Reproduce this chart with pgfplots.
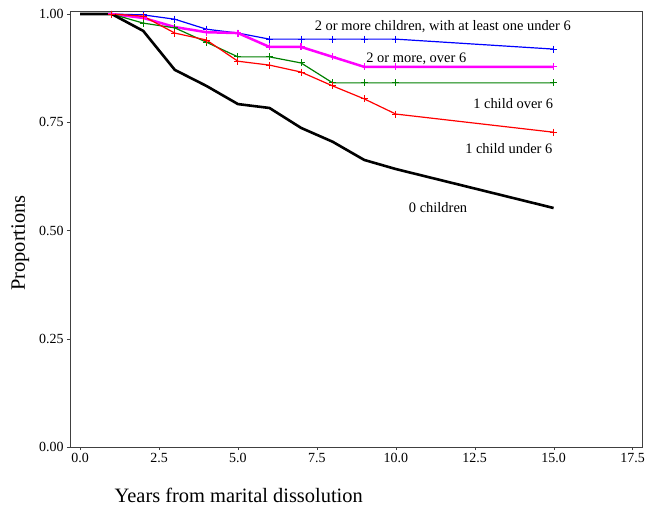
\documentclass[border=0pt]{standalone}
\usepackage{fontspec}
\setmainfont{Liberation Serif}
\usepackage{pgfplots}
\pgfplotsset{compat=1.18}
\definecolor{dkgreen}{RGB}{0,128,0}
\definecolor{mymag}{RGB}{255,0,255}
\definecolor{myblue}{RGB}{0,0,255}
\definecolor{myred}{RGB}{255,0,0}
\begin{document}
\begin{tikzpicture}
\begin{axis}[
  scale only axis, width=572bp, height=436bp,
  xmin=-0.32, xmax=17.8, ymin=0, ymax=1.007,
  xtick={0,2.5,5,7.5,10,12.5,15,17.5},
  ytick={0,0.25,0.5,0.75,1},
  /pgf/number format/assume math mode=true,
  xticklabel style={/pgf/number format/fixed,/pgf/number format/fixed zerofill,/pgf/number format/precision=1},
  yticklabel style={/pgf/number format/fixed,/pgf/number format/fixed zerofill,/pgf/number format/precision=2},
  tick label style={font=\fontsize{14}{16}\selectfont},
  axis line style={draw=black!75},
  tick style={black!75},
  tick align=outside, major tick length=3bp,
  xtick pos=lower, ytick pos=left,
  xlabel={Years from marital dissolution},
  ylabel={Proportions},
  xlabel style={font=\fontsize{20.5}{24}\selectfont, at={(axis description cs:0.295,-0.112)}, anchor=center},
  ylabel style={font=\fontsize{20.5}{24}\selectfont, at={(axis description cs:-0.087,0.468)}, anchor=center},
  clip=false,
]
% 2 or more children, at least one under 6
\addplot[myblue, line width=1.2bp, mark=+, mark size=3.5bp, mark options={line width=1bp}] coordinates {
(1,1.0) (2,0.998) (3,0.988) (4,0.965) (5,0.956) (6,0.942) (7,0.942) (8,0.942) (9,0.942) (10,0.942) (15,0.919)};
% 2 or more, over 6
\addplot[mymag, line width=2.5bp, mark=+, mark size=3.5bp, mark options={line width=1.2bp}] coordinates {
(1,1.0) (2,0.991) (3,0.970) (4,0.958) (5,0.956) (6,0.924) (7,0.924) (8,0.901) (9,0.878) (10,0.878) (15,0.878)};
% 1 child over 6
\addplot[dkgreen, line width=1.2bp, mark=+, mark size=3.5bp, mark options={line width=1bp}] coordinates {
(1,1.0) (2,0.979) (3,0.968) (4,0.935) (5,0.901) (6,0.901) (7,0.887) (8,0.841) (9,0.841) (10,0.841) (15,0.841)};
% 1 child under 6
\addplot[myred, line width=1.2bp, mark=+, mark size=3.5bp, mark options={line width=1bp}] coordinates {
(1,1.0) (2,0.995) (3,0.956) (4,0.940) (5,0.891) (6,0.882) (7,0.866) (8,0.834) (9,0.804) (10,0.769) (15,0.727)};
% 0 children
\addplot[black, line width=2.6bp, mark=none] coordinates {
(0,1.0) (1,1.0) (2,0.961) (3,0.871) (4,0.834) (5,0.792) (6,0.783) (7,0.737) (8,0.705) (9,0.663) (10,0.642) (15,0.552)};
\begin{scope}[font=\fontsize{14.5}{16}\selectfont]
\node at (axis cs:11.49,0.970) {2 or more children, with at least one under 6};
\node at (axis cs:10.65,0.896) {2 or more, over 6};
\node at (axis cs:13.72,0.794) {1 child over 6};
\node at (axis cs:13.58,0.690) {1 child under 6};
\node at (axis cs:11.34,0.554) {0 children};
\end{scope}
\end{axis}
\pgfresetboundingbox
\path (current axis.south west) ++(-70bp,-60bp) coordinate (bl);
\path (current axis.north east) ++(5bp,11bp) coordinate (tr);
\path (bl) rectangle (tr);
\end{tikzpicture}
\end{document}
